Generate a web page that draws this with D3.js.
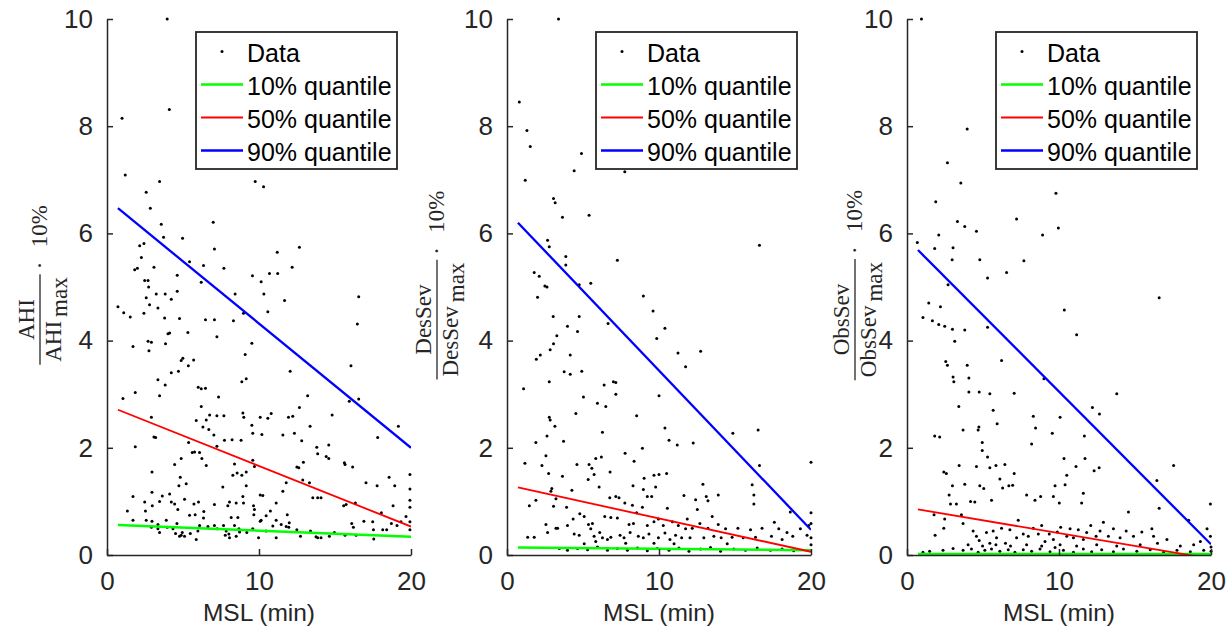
<!DOCTYPE html>
<html>
<head>
<meta charset="utf-8">
<script src="https://cdn.jsdelivr.net/npm/d3@7"></script>
<style>
  body { margin: 0; background: #fff; }
  svg { display: block; }
</style>
</head>
<body>
<div id="chart"></div>
<script>
// ---- data ----
const xTicks = [0, 10, 20];
const yTicks = [0, 2, 4, 6, 8, 10];
const legendLabels = ['Data', '10% quantile', '50% quantile', '90% quantile'];
const xLabel = 'MSL (min)';

// quantile regression lines: value at lineX[0] and lineX[1]
const lineX = [0.72, 20];
const ahiQ10 = [0.56, 0.34], ahiQ50 = [2.71, 0.53], ahiQ90 = [6.47, 2.0];
const desQ10 = [0.14, 0.09], desQ50 = [1.26, 0.06], desQ90 = [6.2, 0.47];
const obsQ10 = [0.02, 0.02], obsQ50 = [0.85, -0.07], obsQ90 = [5.69, 0.2];

const ahiPoints = [[3.96,10.0],[0.99,8.15],[4.1,8.31],[1.2,7.09],[3.46,6.97],[2.58,6.77],[2.85,6.47],[9.75,6.97],[10.3,6.87],[3.57,6.17],[3.72,5.93],[4.97,5.91],[6.99,6.21],[7.07,5.71],[12.66,5.74],[11.2,5.65],[2.15,5.77],[2.43,5.81],[2.26,5.55],[1.82,5.32],[2.0,5.35],[3.09,5.37],[4.62,5.22],[5.43,5.47],[6.35,5.4],[7.69,5.35],[9.57,5.21],[10.14,5.1],[10.69,5.25],[11.23,5.25],[12.18,5.37],[2.48,5.12],[2.7,5.12],[2.74,5.0],[2.58,4.8],[2.8,4.67],[3.24,4.87],[3.83,4.87],[4.23,4.77],[4.62,4.92],[6.2,5.09],[8.43,4.87],[10.32,4.87],[11.68,4.75],[16.56,4.82],[0.72,4.63],[1.1,4.52],[1.53,4.44],[2.43,4.51],[3.35,4.61],[3.79,4.42],[4.77,4.41],[6.48,4.39],[7.07,4.39],[8.32,4.37],[8.98,4.51],[10.58,4.54],[16.47,4.31],[4.01,4.13],[4.12,4.14],[5.32,4.15],[7.23,4.07],[1.71,3.89],[2.7,3.99],[2.92,3.97],[2.76,3.81],[3.85,3.94],[9.09,3.74],[9.53,3.95],[4.99,3.67],[4.88,3.63],[5.7,3.64],[5.35,3.53],[4.23,3.4],[4.7,3.43],[3.35,3.27],[3.83,3.17],[6.0,3.13],[6.48,3.11],[6.2,3.1],[8.87,3.23],[9.16,3.29],[7.34,2.95],[3.46,2.97],[1.05,2.92],[1.86,3.03],[12.05,3.43],[13.2,2.97],[16.05,3.53],[16.56,2.91],[12.66,2.75],[12.22,2.59],[11.94,2.57],[10.8,2.64],[10.58,2.55],[10.08,2.57],[9.53,2.42],[8.94,2.65],[9.0,2.57],[7.69,2.6],[7.23,2.6],[6.75,2.61],[6.53,2.52],[6.2,2.77],[5.87,2.51],[6.31,2.39],[6.7,2.34],[7.03,2.24],[7.23,2.03],[7.73,2.14],[8.23,2.15],[8.82,2.14],[9.59,2.27],[10.19,2.25],[11.57,2.24],[12.33,2.27],[12.81,2.13],[13.36,2.4],[14.81,2.61],[15.94,2.87],[17.81,2.19],[19.17,2.4],[2.92,2.57],[3.09,2.2],[3.2,2.19],[1.86,2.02],[2.96,1.55],[5.37,2.1],[5.61,1.91],[5.76,1.92],[6.09,1.91],[6.24,1.8],[6.53,1.67],[4.88,1.8],[4.45,1.69],[4.82,1.45],[5.21,1.33],[4.73,1.29],[4.12,1.14],[3.64,1.1],[1.71,1.09],[1.34,0.82],[2.48,0.99],[2.96,1.17],[2.98,0.92],[2.53,0.82],[3.46,1.0],[4.23,0.99],[4.45,0.95],[4.66,0.85],[5.1,1.04],[5.72,0.95],[6.02,0.99],[5.8,0.75],[5.43,0.74],[6.37,0.81],[7.07,0.94],[7.62,1.27],[8.39,1.7],[8.56,1.53],[8.87,1.49],[8.28,1.49],[9.16,1.55],[9.59,1.77],[9.7,1.65],[9.16,1.29],[8.94,1.09],[8.98,0.97],[8.5,0.97],[8.06,0.99],[7.95,0.92],[8.17,0.7],[8.61,0.7],[9.64,0.92],[10.08,1.12],[10.25,1.11],[9.66,0.75],[9.7,0.85],[10.14,0.65],[10.47,0.73],[10.75,0.82],[11.13,0.97],[11.57,1.19],[11.79,1.35],[12.49,1.64],[12.62,1.63],[12.88,1.4],[12.92,1.73],[13.32,1.35],[13.54,1.07],[13.86,1.07],[14.08,1.07],[13.8,2.01],[14.59,2.05],[13.86,1.89],[14.59,1.8],[14.42,1.84],[15.62,1.72],[15.66,1.69],[16.16,1.64],[15.57,0.92],[15.73,0.94],[16.34,0.97],[17.04,1.35],[17.77,1.29],[18.56,1.45],[18.93,1.29],[18.82,0.92],[18.05,0.79],[19.93,1.5],[19.93,1.23],[19.93,1.02],[19.93,0.89],[19.93,0.62],[19.93,0.47],[19.67,0.72],[19.34,0.62],[19.08,0.55],[18.71,0.59],[18.4,0.47],[18.14,0.47],[17.48,0.62],[17.53,0.47],[17.55,0.3],[16.9,0.63],[16.1,0.59],[16.21,0.52],[16.39,0.37],[15.66,0.37],[14.96,0.42],[14.63,0.35],[14.08,0.32],[13.86,0.32],[13.75,0.34],[13.39,0.45],[12.73,0.35],[12.49,0.47],[11.99,0.6],[11.96,0.52],[11.79,0.53],[11.46,0.57],[11.86,0.75],[11.13,0.65],[11.13,0.32],[10.91,0.54],[10.47,0.45],[10.08,0.63],[9.97,0.32],[9.59,0.49],[9.2,0.42],[8.72,0.43],[8.68,0.49],[8.39,0.55],[8.5,0.35],[8.06,0.32],[8.02,0.39],[7.78,0.37],[7.84,0.45],[7.67,0.55],[7.25,0.49],[7.07,0.55],[6.64,0.53],[6.35,0.69],[6.09,0.55],[5.98,0.45],[5.87,0.29],[5.48,0.4],[5.1,0.35],[4.88,0.37],[4.95,0.42],[4.77,0.35],[4.51,0.4],[4.6,0.59],[4.34,0.49],[3.96,0.52],[3.46,0.42],[3.35,0.49],[2.92,0.52],[2.96,0.63],[3.9,0.65],[2.58,0.65],[1.71,0.65],[3.35,0.57]];

const desPoints = [[3.39,10.0],[0.81,8.45],[1.31,7.92],[1.53,7.62],[4.9,7.49],[4.42,7.17],[7.75,7.15],[1.2,6.99],[3.06,6.65],[3.17,6.57],[3.65,6.3],[5.4,6.34],[2.67,5.87],[2.78,5.75],[7.26,5.5],[3.87,5.57],[3.87,5.41],[1.79,5.27],[2.12,5.2],[2.49,5.02],[2.63,5.0],[4.75,5.04],[5.51,5.07],[2.01,4.81],[3.04,4.45],[4.75,4.45],[3.98,4.27],[4.64,4.17],[6.65,4.32],[8.97,4.83],[9.61,4.55],[10.39,4.23],[9.85,4.04],[16.61,5.78],[3.28,4.09],[3.06,3.94],[2.84,3.83],[2.19,3.73],[1.93,3.65],[4.16,3.73],[2.78,3.23],[3.76,3.42],[4.16,3.37],[4.92,3.43],[11.25,3.77],[12.74,3.8],[11.75,3.51],[6.39,3.17],[7.0,3.23],[7.16,3.22],[7.16,3.0],[10.0,2.97],[5.03,2.95],[5.95,2.83],[6.5,2.77],[1.09,3.1],[8.53,2.6],[2.78,2.57],[2.84,2.52],[3.15,2.4],[4.53,2.64],[3.72,2.12],[1.9,2.1],[2.63,2.22],[6.28,2.29],[10.39,2.37],[10.66,2.14],[11.2,2.05],[12.25,2.09],[14.86,2.27],[16.52,2.33],[16.61,1.67],[20,1.73],[1.18,1.71],[2.56,1.85],[2.3,1.67],[2.74,1.52],[3.65,1.47],[4.27,1.21],[4.6,1.69],[5.4,1.69],[5.84,1.8],[5.58,1.62],[5.73,1.5],[6.21,1.83],[6.78,1.55],[5.34,1.41],[6.06,1.27],[7.77,1.9],[8.36,1.75],[8.91,1.99],[9.02,1.43],[9.67,1.49],[10.0,1.5],[10.5,1.52],[9.78,1.27],[8.29,1.29],[8.97,1.22],[9.23,1.09],[7.16,1.09],[7.37,1.07],[6.76,1.07],[8.25,0.93],[7.75,0.97],[8.91,0.89],[9.52,1.09],[11.64,1.11],[12.89,1.32],[12.41,1.03],[13.11,1.09],[13.22,1.01],[13.9,1.12],[16.13,1.31],[16.24,1.12],[16.24,0.95],[3.22,1.05],[3.06,0.91],[3.92,0.89],[2.95,1.24],[2.89,1.19],[1.9,1.02],[1.47,0.92],[1.36,0.33],[1.79,0.33],[2.56,0.57],[2.67,0.42],[3.22,0.5],[3.33,0.5],[3.98,0.55],[4.35,0.67],[4.42,0.39],[4.79,0.77],[4.75,0.37],[5.08,0.72],[5.36,0.57],[5.51,0.49],[5.73,0.35],[5.62,0.59],[6.1,0.42],[6.28,0.32],[6.43,0.72],[6.61,0.29],[6.83,0.33],[6.83,0.7],[7.26,0.69],[7.44,0.37],[7.7,0.32],[8.03,0.57],[8.1,0.42],[8.32,0.59],[8.53,0.79],[8.64,0.35],[8.97,0.32],[9.23,0.55],[9.34,0.39],[9.67,0.62],[9.96,0.67],[9.96,0.32],[10.28,0.55],[10.39,0.41],[10.55,0.87],[10.72,0.29],[10.88,0.62],[11.09,0.37],[11.27,0.55],[11.49,0.32],[11.75,0.49],[11.86,0.67],[12.04,0.32],[12.19,0.5],[12.52,0.85],[12.69,0.59],[12.95,0.32],[13.22,0.5],[13.5,0.72],[13.61,0.35],[13.9,0.57],[14.09,0.32],[14.38,0.49],[14.81,0.33],[15.19,0.5],[15.54,0.32],[16.02,0.47],[16.35,0.33],[16.78,0.5],[17.4,0.35],[17.59,0.61],[17.88,0.49],[18.1,0.29],[18.42,0.42],[18.64,0.8],[18.8,0.35],[19.3,0.49],[19.74,0.37],[19.85,0.55],[20,0.79],[20,0.59],[20,0.32],[20,0.19],[4.64,0.12],[5.3,0.1],[5.95,0.15],[6.61,0.09],[7.26,0.12],[7.92,0.09],[8.58,0.13],[9.23,0.08],[9.89,0.12],[10.66,0.09],[11.31,0.13],[11.97,0.07],[12.74,0.11],[13.39,0.14],[14.05,0.07],[14.92,0.11],[15.69,0.09],[16.46,0.13],[17.33,0.09],[18.1,0.11],[18.86,0.08],[3.44,0.12],[3.98,0.09],[5.08,0.21],[5.84,0.25],[7.81,0.22],[9.67,0.22],[10.99,0.21],[14.49,0.21]];

const obsPoints = [[0.95,10.0],[3.96,7.95],[2.66,7.32],[3.54,6.94],[1.89,6.59],[9.8,6.75],[7.21,6.27],[3.32,6.22],[3.8,6.13],[4.57,6.04],[9.96,6.1],[8.92,5.97],[2.09,5.97],[0.68,5.83],[1.82,5.72],[3.03,5.73],[2.97,5.51],[4.79,5.51],[7.69,5.49],[6.55,5.27],[5.3,5.17],[2.7,5.04],[10.35,4.57],[16.59,4.8],[1.43,4.7],[1.05,4.43],[2.2,4.63],[1.67,4.37],[2.09,4.3],[2.48,4.27],[2.99,4.21],[3.8,4.2],[5.3,4.25],[11.16,4.11],[3.14,3.99],[2.55,3.61],[2.66,3.54],[3.03,3.32],[3.08,3.23],[3.96,3.54],[4.07,3.3],[6.22,3.63],[9.01,3.29],[4.07,3.04],[4.75,3.04],[5.45,3.01],[7.05,3.02],[13.8,3.01],[3.41,2.77],[5.67,2.7],[12.2,2.75],[12.66,2.63],[5.93,2.45],[8.31,2.59],[8.46,2.37],[10.07,2.57],[9.56,2.27],[11.67,2.22],[1.82,2.22],[2.15,2.2],[3.69,2.33],[4.73,2.39],[4.68,2.33],[4.95,2.1],[4.95,1.95],[8.2,2.07],[5.3,1.83],[5.85,1.67],[6.44,1.69],[7.05,1.52],[4.57,1.65],[5.45,1.63],[3.43,1.67],[2.42,1.55],[2.59,1.52],[2.99,1.29],[3.8,1.32],[10.33,1.8],[11.71,1.8],[11.12,1.65],[10.51,1.49],[10.4,1.31],[12.64,1.63],[12.31,1.57],[17.54,1.67],[16.44,1.39],[2.77,1.12],[2.86,0.95],[3.25,0.95],[4.18,1.0],[4.46,0.99],[4.79,1.29],[5.05,1.24],[5.56,1.02],[6.29,1.25],[6.7,1.29],[6.95,1.3],[6.11,1.42],[7.87,1.12],[8.42,1.02],[8.79,1.09],[9.74,1.29],[10.02,0.97],[9.63,1.09],[11.6,1.15],[11.49,0.97],[14.57,0.8],[16.59,0.87],[19.96,0.95],[1.78,0.75],[2.48,0.67],[2.42,0.5],[1.85,0.37],[1.05,0.05],[3.58,0.75],[3.69,0.59],[4.35,0.45],[4.57,0.35],[4.75,0.27],[5.23,0.42],[5.45,0.22],[5.67,0.45],[5.89,0.32],[6.22,0.5],[6.48,0.22],[6.77,0.47],[7.21,0.32],[7.32,0.65],[7.65,0.39],[7.98,0.35],[8.31,0.5],[8.64,0.39],[8.86,0.55],[9.08,0.25],[9.36,0.39],[9.63,0.29],[9.89,0.43],[10.11,0.52],[10.51,0.35],[10.73,0.49],[10.95,0.32],[11.27,0.47],[11.6,0.29],[11.82,0.42],[12.09,0.55],[12.44,0.35],[12.7,0.45],[12.92,0.61],[13.25,0.35],[13.58,0.49],[14.02,0.32],[14.42,0.45],[14.9,0.35],[15.45,0.43],[16.11,0.49],[16.22,0.35],[16.48,0.22],[17.1,0.29],[17.98,0.17],[18.53,0.65],[18.86,0.19],[19.3,0.25],[19.74,0.49],[19.96,0.35],[20,0.15],[20,0.07],[1.49,0.07],[2.37,0.09],[3.03,0.12],[3.69,0.09],[4.24,0.11],[4.68,0.05],[5.12,0.09],[5.56,0.11],[6.11,0.07],[6.66,0.1],[7.1,0.05],[7.65,0.1],[8.2,0.07],[8.75,0.11],[9.41,0.06],[9.74,0.14],[10.29,0.09],[10.95,0.05],[11.6,0.11],[12.15,0.06],[12.81,0.1],[13.58,0.06],[14.24,0.11],[15.12,0.07],[16.0,0.1],[16.88,0.05],[17.76,0.09],[18.64,0.06],[19.52,0.09],[4.02,0.19],[4.97,0.17],[5.85,0.19],[6.81,0.17],[7.87,0.19],[8.86,0.17],[10.07,0.19],[11.16,0.17],[12.48,0.19],[13.8,0.17],[15.34,0.19]];

// ---- layout ----
const W = 1230, H = 629;
const axisColor = '#262626';
const sansFont = '"Liberation Sans", Arial, Helvetica, sans-serif';
const serifFont = '"Liberation Serif", "Times New Roman", serif';
const lineColors = ['#00ff00', '#ff0000', '#0000ff'];
const lineWidths = [2.6, 1.8, 2.3];

const panels = [
  { left: 107, points: ahiPoints, quant: [ahiQ10, ahiQ50, ahiQ90], num: 'AHI', den: 'AHI', labelX: 40 },
  { left: 507, points: desPoints, quant: [desQ10, desQ50, desQ90], num: 'DesSev', den: 'DesSev', labelX: 437 },
  { left: 907, points: obsPoints, quant: [obsQ10, obsQ50, obsQ90], num: 'ObsSev', den: 'ObsSev', labelX: 855 }
];
const plotW = 304, plotTop = 19, plotBottom = 555;

const svg = d3.select('#chart').append('svg')
  .attr('width', W).attr('height', H)
  .style('background', '#fff');

const defs = svg.append('defs');

function serifText(sel, size){
  return sel.attr('font-family', serifFont).attr('font-size', size).attr('fill', axisColor);
}

panels.forEach((p, i) => {
  const x = d3.scaleLinear().domain([0, 20]).range([p.left, p.left + plotW]);
  const y = d3.scaleLinear().domain([0, 10]).range([plotBottom, plotTop]);

  defs.append('clipPath').attr('id', 'clip' + i)
    .append('rect')
    .attr('x', p.left).attr('y', plotTop)
    .attr('width', plotW).attr('height', plotBottom - plotTop);

  const g = svg.append('g');

  // scatter
  g.append('g').selectAll('circle')
    .data(p.points)
    .join('circle')
    .attr('cx', d => x(d[0]))
    .attr('cy', d => y(d[1]))
    .attr('r', 1.5)
    .attr('fill', '#000');

  // quantile lines, clipped to the axes box
  const line = d3.line().x(d => x(d[0])).y(d => y(d[1]));
  p.quant.forEach((q, k) => {
    g.append('path')
      .datum(lineX.map((lx, j) => [lx, q[j]]))
      .attr('clip-path', 'url(#clip' + i + ')')
      .attr('d', line)
      .attr('fill', 'none')
      .attr('stroke', lineColors[k])
      .attr('stroke-width', lineWidths[k]);
  });

  // axes (matlab style: ticks pointing in)
  const yAxis = d3.axisLeft(y).tickValues(yTicks).tickSizeInner(-6).tickSizeOuter(0).tickPadding(14);
  const xAxis = d3.axisBottom(x).tickValues(xTicks).tickSizeInner(-6).tickSizeOuter(0).tickPadding(17);

  const ya = svg.append('g').attr('transform', 'translate(' + p.left + ',0)').call(yAxis);
  const xa = svg.append('g').attr('transform', 'translate(0,' + plotBottom + ')').call(xAxis);
  [ya, xa].forEach(a => {
    a.select('.domain').attr('stroke', axisColor).attr('stroke-width', 1.5);
    a.selectAll('.tick line').attr('stroke', axisColor).attr('stroke-width', 1.5);
    a.selectAll('.tick text')
      .attr('fill', axisColor)
      .style('font-family', sansFont)
      .style('font-size', '26px');
  });

  // x label
  svg.append('text')
    .attr('x', p.left + plotW / 2)
    .attr('y', 621)
    .attr('text-anchor', 'middle')
    .attr('fill', axisColor)
    .style('font-family', sansFont)
    .style('font-size', '24.5px')
    .text(xLabel);

  // y label: fraction num/den_max · 10%, rotated
  const lab = svg.append('g')
    .attr('transform', 'translate(' + p.labelX + ',285) rotate(-90)');
  const inner = lab.append('g');
  const numT = serifText(inner.append('text'), 23).attr('text-anchor', 'middle').attr('y', -6).text(p.num);
  const denT = serifText(inner.append('text'), 23).attr('text-anchor', 'middle').attr('y', 21);
  denT.append('tspan').text(p.den);
  denT.append('tspan').attr('dx', 4).attr('dy', 6).text('max');
  const barLen = Math.max(numT.node().getComputedTextLength(), denT.node().getComputedTextLength()) + 10;
  inner.append('line')
    .attr('x1', -barLen / 2).attr('x2', barLen / 2)
    .attr('y1', 0).attr('y2', 0)
    .attr('stroke', axisColor).attr('stroke-width', 1.3);
  serifText(inner.append('text'), 23).attr('x', barLen / 2 + 5).attr('y', 7).text('\u00b7');
  const pct = serifText(inner.append('text'), 23).attr('x', barLen / 2 + 27).attr('y', 7).text('10%');
  const total = barLen + 27 + pct.node().getComputedTextLength();
  inner.attr('transform', 'translate(' + (-(total / 2) + barLen / 2) + ',0)');

  // legend
  const lg = svg.append('g').attr('transform', 'translate(' + (p.left + 89) + ',32)');
  lg.append('rect')
    .attr('width', 201).attr('height', 137)
    .attr('fill', '#fff')
    .attr('stroke', axisColor).attr('stroke-width', 1.8);
  const rowY = [19.5, 52.5, 85.5, 118.5];
  legendLabels.forEach((lbl, k) => {
    if (k === 0) {
      lg.append('circle').attr('cx', 26).attr('cy', rowY[k]).attr('r', 1.5).attr('fill', '#000');
    } else {
      lg.append('line')
        .attr('x1', 5).attr('x2', 47)
        .attr('y1', rowY[k]).attr('y2', rowY[k])
        .attr('stroke', lineColors[k - 1]).attr('stroke-width', lineWidths[k - 1]);
    }
    lg.append('text')
      .attr('x', 51).attr('y', rowY[k] + 10)
      .attr('fill', '#000')
      .style('font-family', sansFont)
      .style('font-size', '25px')
      .text(lbl);
  });
});
</script>
</body>
</html>
